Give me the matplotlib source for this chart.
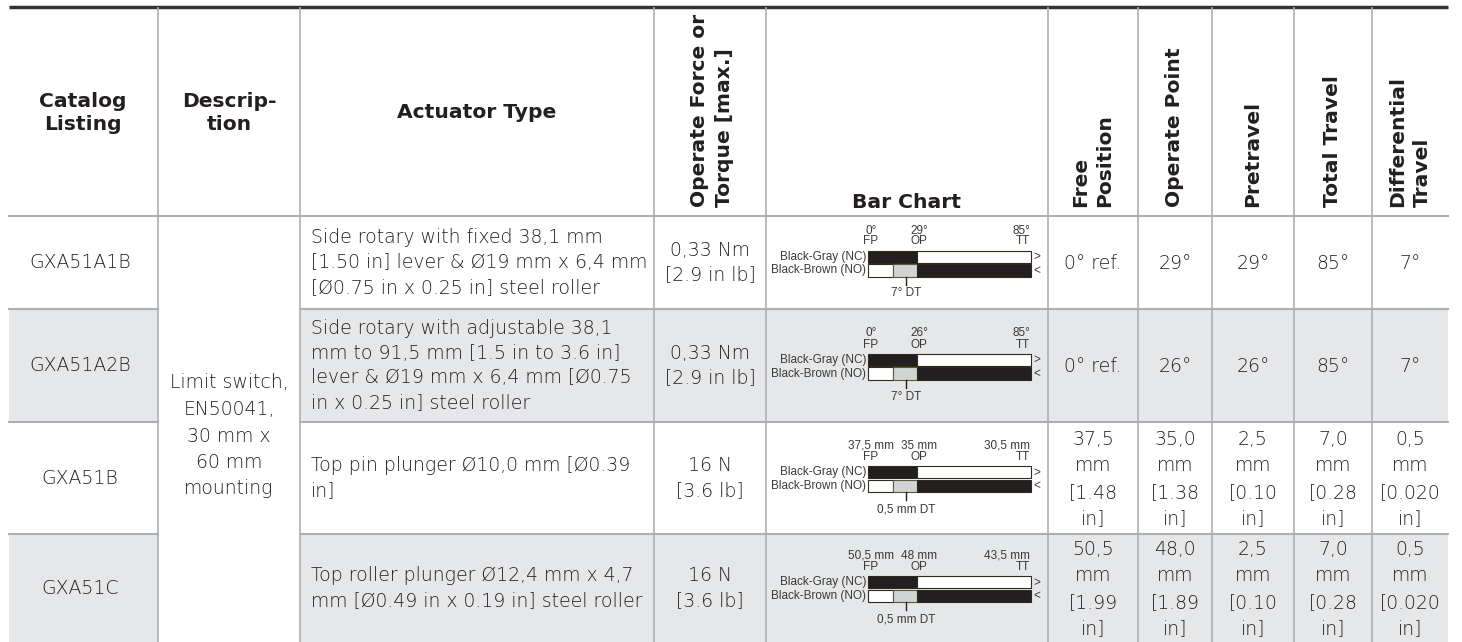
import matplotlib
matplotlib.use("Agg")
import matplotlib.pyplot as plt
from matplotlib.patches import Rectangle

# table data
catalog = ["GXA51A1B", "GXA51A2B", "GXA51B", "GXA51C"]
description = "Limit switch,\nEN50041,\n30 mm x\n60 mm\nmounting"
actuator = [
    "Side rotary with fixed 38,1 mm\n[1.50 in] lever & Ø19 mm x 6,4 mm\n[Ø0.75 in x 0.25 in] steel roller",
    "Side rotary with adjustable 38,1\nmm to 91,5 mm [1.5 in to 3.6 in]\nlever & Ø19 mm x 6,4 mm [Ø0.75\nin x 0.25 in] steel roller",
    "Top pin plunger Ø10,0 mm [Ø0.39\nin]",
    "Top roller plunger Ø12,4 mm x 4,7\nmm [Ø0.49 in x 0.19 in] steel roller",
]
force = ["0,33 Nm\n[2.9 in lb]", "0,33 Nm\n[2.9 in lb]", "16 N\n[3.6 lb]", "16 N\n[3.6 lb]"]
free_pos = ["0° ref.", "0° ref.", "37,5\nmm\n[1.48\nin]", "50,5\nmm\n[1.99\nin]"]
operate_pt = ["29°", "26°", "35,0\nmm\n[1.38\nin]", "48,0\nmm\n[1.89\nin]"]
pretravel = ["29°", "26°", "2,5\nmm\n[0.10\nin]", "2,5\nmm\n[0.10\nin]"]
total_travel = ["85°", "85°", "7,0\nmm\n[0.28\nin]", "7,0\nmm\n[0.28\nin]"]
diff_travel = ["7°", "7°", "0,5\nmm\n[0.020\nin]", "0,5\nmm\n[0.020\nin]"]

# bar chart labels
chart_fp = ["0°", "0°", "37,5 mm", "50,5 mm"]
chart_op = ["29°", "26°", "35 mm", "48 mm"]
chart_tt = ["85°", "85°", "30,5 mm", "43,5 mm"]
chart_dt = ["7° DT", "7° DT", "0,5 mm DT", "0,5 mm DT"]

headers_flat = [("Catalog\nListing", 83), ("Descrip-\ntion", 229), ("Actuator Type", 477)]
headers_rot = [("Operate Force or\nTorque [max.]", 712), ("Free\nPosition", 1093),
               ("Operate Point", 1175), ("Pretravel", 1253), ("Total Travel", 1333),
               ("Differential\nTravel", 1410)]

col_x = [9, 158, 300, 654, 766, 1048, 1138, 1212, 1294, 1372, 1448]
row_y = [216, 309, 422, 534, 642]

HEAD = dict(family=["DejaVu Sans"], weight="bold", color="#231f20", fontsize=14.6)
BODY = dict(family=["DejaVu Sans"], weight="light", color="#231f20", fontsize=13.6)
SMALL = dict(family=["Liberation Sans Narrow", "Liberation Sans", "DejaVu Sans"], color="#3a3a3a", fontsize=8.5)

fig = plt.figure(figsize=(14.62, 6.42), dpi=100)
ax = fig.add_axes([0, 0, 1, 1])
ax.set_xlim(0, 1462)
ax.set_ylim(642, 0)
ax.axis("off")

# shaded rows
for i in range(4):
    if i % 2 == 1:
        y0, y1 = row_y[i], row_y[i + 1]
        ax.add_patch(Rectangle((col_x[0], y0), col_x[1] - col_x[0], y1 - y0, color="#e6e7e8", lw=0))
        ax.add_patch(Rectangle((col_x[2], y0), col_x[-1] - col_x[2], y1 - y0, color="#e6e7e8", lw=0))

# grid
grid = "#adafb2"
ax.plot([col_x[0], col_x[-1]], [7, 7], color="#333333", lw=2.5, solid_capstyle="butt")
ax.plot([col_x[0], col_x[-1]], [216, 216], color=grid, lw=1.5)
for y in row_y[1:-1]:
    ax.plot([col_x[0], col_x[1]], [y, y], color=grid, lw=1.5)
    ax.plot([col_x[2], col_x[-1]], [y, y], color=grid, lw=1.5)
for x in col_x[1:-1]:
    ax.plot([x, x], [8, 642], color=grid, lw=1.2)

# headers
for txt, x in headers_flat:
    ax.text(x, 113, txt, ha="center", va="center", linespacing=1.25, **HEAD)
for txt, x in headers_rot:
    ax.text(x, 207, txt, ha="center", va="bottom", rotation=90, multialignment="left",
            linespacing=1.35, **HEAD)
ax.text(907, 202, "Bar Chart", ha="center", va="center", **HEAD)

# body
ax.text(229, 436, description, ha="center", va="center", linespacing=1.5, **BODY)
for i in range(4):
    c = (row_y[i] + row_y[i + 1]) / 2
    ax.text(80, c, catalog[i], ha="center", va="center", **BODY)
    ax.text(311, c, actuator[i], ha="left", va="center", linespacing=1.38, **BODY)
    ax.text(710, c, force[i], ha="center", va="center", linespacing=1.38, **BODY)
    for j, col in enumerate([free_pos, operate_pt, pretravel, total_travel, diff_travel]):
        xc = (col_x[5 + j] + col_x[6 + j]) / 2
        ax.text(xc, c + 1, col[i], ha="center", va="center", linespacing=1.5, **BODY)

    # bar chart
    x0, xdt, xop, x1 = 868, 893, 917, 1031
    edge = "#2b2b1f"
    ax.add_patch(Rectangle((x0, c - 12), xop - x0, 12, facecolor="#231f20", edgecolor=edge, lw=0.8))
    ax.add_patch(Rectangle((xop, c - 12), x1 - xop, 12, facecolor="white", edgecolor=edge, lw=0.8))
    ax.add_patch(Rectangle((x0, c + 1.5), xdt - x0, 12.5, facecolor="white", edgecolor=edge, lw=0.8))
    ax.add_patch(Rectangle((xdt, c + 1.5), xop - xdt, 12.5, facecolor="#d1d3d4", edgecolor="#5a5a2a", lw=0.8))
    ax.add_patch(Rectangle((xop, c + 1.5), x1 - xop, 12.5, facecolor="#231f20", edgecolor=edge, lw=0.8))
    ax.plot([906, 906], [c + 14, c + 22], color="#231f20", lw=1)
    ax.text(866, c - 5.5, "Black-Gray (NC)", ha="right", va="center", **SMALL)
    ax.text(866, c + 8, "Black-Brown (NO)", ha="right", va="center", **SMALL)
    ax.text(x1 + 2, c - 5.5, ">", ha="left", va="center", **SMALL)
    ax.text(x1 + 2, c + 8, "<", ha="left", va="center", **SMALL)
    ax.text(871, c - 32, chart_fp[i], ha="center", va="center", **SMALL)
    ax.text(871, c - 21, "FP", ha="center", va="center", **SMALL)
    ax.text(919, c - 32, chart_op[i], ha="center", va="center", **SMALL)
    ax.text(919, c - 21, "OP", ha="center", va="center", **SMALL)
    ax.text(1030, c - 32, chart_tt[i], ha="right", va="center", **SMALL)
    ax.text(1030, c - 21, "TT", ha="right", va="center", **SMALL)
    ax.text(906, c + 31, chart_dt[i], ha="center", va="center", **SMALL)

fig.savefig("out.png", dpi=100)
